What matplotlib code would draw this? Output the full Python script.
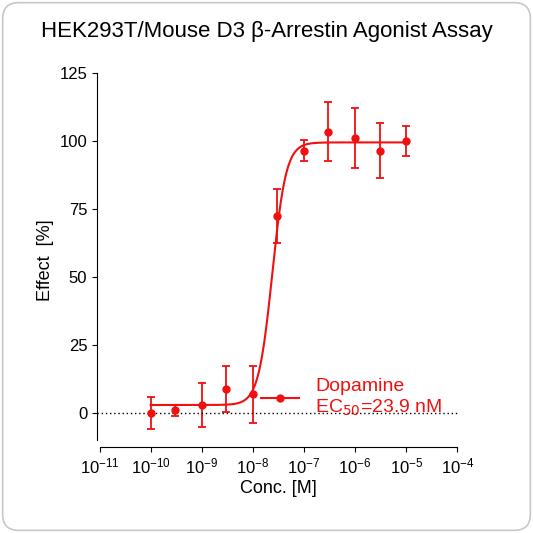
import numpy as np
import matplotlib.pyplot as plt
from matplotlib.patches import FancyBboxPatch

plt.rcParams['font.family'] = ['Liberation Sans', 'DejaVu Sans']

conc = [1e-10, 3e-10, 1e-9, 3e-9, 1e-8, 3e-8, 1e-7, 3e-7, 1e-6, 3e-6, 1e-5]
effect = [0, 1, 3, 9, 7, 72.5, 96.5, 103.5, 101, 96.5, 100]
err = [6, 2, 8, 8.5, 10.5, 10, 4, 11, 11, 10, 5.5]
bottom, top, ec50, hill = 3, 99.5, 23.9e-9, 3.2

red = '#f01010'
fig = plt.figure(figsize=(5.33, 5.33), dpi=100)
box = FancyBboxPatch((0.005, 0.005), 0.99, 0.99, boxstyle="round,pad=0,rounding_size=0.03",
                     transform=fig.transFigure, fc='white', ec='#c8c8c8', lw=1.2, zorder=-10)
fig.patches.append(box)
ax = fig.add_axes([0.182, 0.161, 0.681, 0.702])
ax.patch.set_alpha(0)
xs = np.logspace(-10, -5, 400)
ax.plot(xs, bottom + (top - bottom) / (1 + (ec50 / xs) ** hill), color=red, lw=1.5)
ax.errorbar(conc, effect, yerr=err, fmt='o', color=red, ms=5, capsize=3, elinewidth=1.3, capthick=1.3)
ax.axhline(0, color='black', ls=(0, (1, 2)), lw=1)
ax.plot([], [], '-o', color=red, ms=5, label='Dopamine\nEC$_{50}$=23.9 nM')
leg = ax.legend(loc='lower right', bbox_to_anchor=(1.0, 0.03), frameon=False, fontsize=14, handlelength=2)
for t in leg.get_texts():
    t.set_color(red)

ax.set_xscale('log')
ax.set_xlim(10**-11.05, 10**-3.95)
ax.set_ylim(-12.5, 125)
ax.set_xticks([10.0**k for k in range(-11, -3)])
ax.set_yticks([0, 25, 50, 75, 100, 125])
ax.spines['top'].set_visible(False)
ax.spines['right'].set_visible(False)
ax.spines['left'].set_bounds(-10, 125)
ax.spines['bottom'].set_bounds(1e-11, 1e-4)
ax.tick_params(labelsize=12)
ax.set_xlabel('Conc. [M]', fontsize=13, labelpad=2)
ax.set_ylabel('Effect  [%]', fontsize=13)
fig.text(0.5, 0.93, 'HEK293T/Mouse D3 β-Arrestin Agonist Assay', ha='center', fontsize=16)
fig.savefig('out.png', dpi=100)
